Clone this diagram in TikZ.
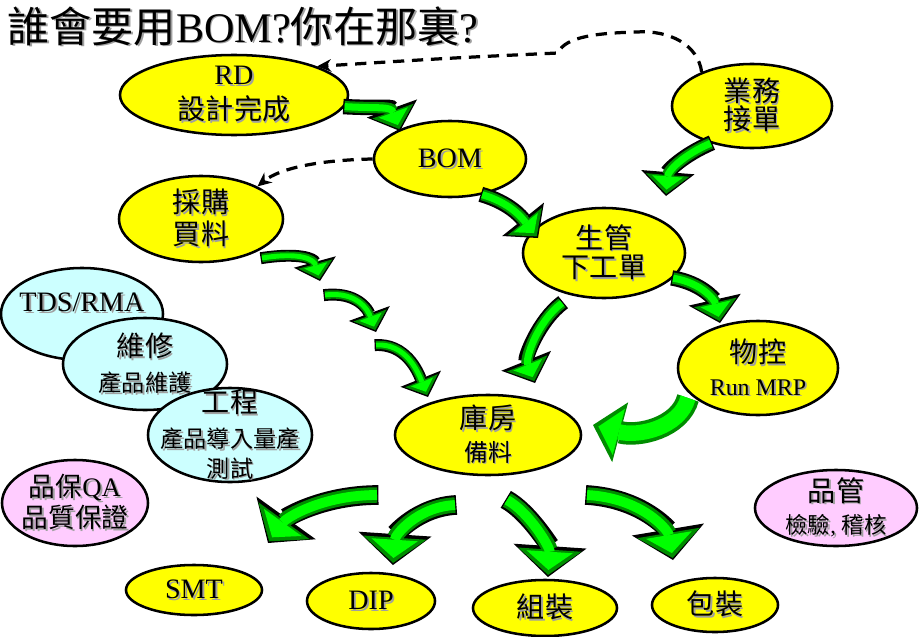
\documentclass[tikz,border=0pt]{standalone}
\usepackage{fontspec}
\setmainfont{Liberation Serif}
\newfontfamily\cjk{Noto Sans CJK TC}
\usepackage{tikz}
\usetikzlibrary{shapes.geometric,arrows.meta}

\definecolor{bubyellow}{HTML}{FFFF00}
\definecolor{bubcyan}{HTML}{CCFFFF}
\definecolor{bubpink}{HTML}{FFCCFF}
\definecolor{arrgreen}{HTML}{00FF00}
\definecolor{arrdark}{HTML}{008C00}
\definecolor{txtshadow}{HTML}{A0A0A0}

\newcommand{\zh}[1]{{\cjk #1}}
\newcommand{\ls}[1]{\leavevmode\rlap{\kern1.3pt\raisebox{-1.3pt}{\textcolor{txtshadow}{#1}}}#1}
\newcommand{\zs}[1]{\ls{\zh{#1}}}
\newcommand{\subsize}{\fontsize{16.5}{20}\selectfont}

\tikzset{
  bub/.style={ellipse, draw, line width=1.8pt, inner xsep=-40pt, inner ysep=-20pt, align=center, font=\fontsize{20}{23}\selectfont},
  ybub/.style={bub, fill=bubyellow},
  cbub/.style={bub, fill=bubcyan},
  pbub/.style={bub, fill=bubpink},
  dashln/.style={line width=2.3pt, dash pattern=on 8pt off 5.5pt, -{Stealth[length=10pt,width=9pt]}},
  flowS/.style={draw=arrdark, line width=6pt, shorten >=1.5pt, -{Triangle[length=11pt,width=25pt,line width=0pt]},
    preaction={draw=black, line width=8.5pt, shorten >=0pt, shorten <=-1pt, -{Triangle[length=14pt,width=31pt,line width=0pt]}},
    postaction={draw=arrgreen, line width=3.5pt, shorten >=4pt, -{Triangle[length=7.5pt,width=17pt,line width=0pt]}}},
  flowM/.style={draw=arrdark, line width=8pt, shorten >=1.5pt, -{Triangle[length=13.5pt,width=31pt,line width=0pt]},
    preaction={draw=black, line width=11pt, shorten >=0pt, shorten <=-1pt, -{Triangle[length=17pt,width=38pt,line width=0pt]}},
    postaction={draw=arrgreen, line width=5pt, shorten >=4.5pt, -{Triangle[length=9.5pt,width=22pt,line width=0pt]}}},
  flowL/.style={draw=arrdark, line width=11pt, shorten >=1.5pt, -{Triangle[length=18pt,width=45pt,line width=0pt]},
    preaction={draw=black, line width=14pt, shorten >=0pt, shorten <=-1pt, -{Triangle[length=22pt,width=52pt,line width=0pt]}},
    postaction={draw=arrgreen, line width=7pt, shorten >=5pt, -{Triangle[length=13pt,width=33pt,line width=0pt]}}},
  flowB/.style={draw=arrdark, line width=16pt, -{Triangle[length=20pt,width=44pt,line width=0pt]},
    postaction={draw=arrgreen, line width=11pt, shorten >=4pt, -{Triangle[length=15pt,width=34pt,line width=0pt]}}}
}

\begin{document}
\begin{tikzpicture}[x=0.025cm, y=-0.025cm]
\useasboundingbox (0,0) rectangle (920,637);

% title
\node[anchor=west, inner sep=0pt, font=\fontsize{30}{33}\selectfont] (title) at (7,27) {\ls{\zh{誰會要用}BOM?\zh{你在那裏}?}};

% bubbles
\node[ybub, minimum width=5.7cm, minimum height=2cm] (rd) at (234,95) {\ls{RD}\\[2pt]\zs{設計完成}};
\node[ybub, minimum width=4cm, minimum height=2.1cm] (sales) at (752,106) {\zs{業務}\\[-3pt]\zs{接單}};
\node[ybub, minimum width=3.8cm, minimum height=1.9cm] (bom) at (450,159) {\ls{BOM}};
\node[ybub, minimum width=4.1cm, minimum height=2.15cm] (buy) at (201,219) {\zs{採購}\\\zs{買料}};
\node[ybub, minimum width=4.05cm, minimum height=2.25cm] (plan) at (604,253) {\zs{生管}\\[-2pt]\zs{下工單}};
\node[cbub, minimum width=4.05cm, minimum height=2.3cm] (tds) at (82,314) {\raisebox{2pt}[0pt][0pt]{\ls{TDS/RMA}}};
\node[cbub, minimum width=4.1cm, minimum height=2.3cm] (repair) at (145,364) {\zs{維修}\\[2pt]{\subsize\zs{產品維護}}};
\node[cbub, minimum width=4.1cm, minimum height=2.35cm] (eng) at (230,435) {\zs{工程}\\[2pt]{\subsize\zs{產品導入量產}}\\[-2pt]{\subsize\zs{測試}}};
\node[ybub, minimum width=4cm, minimum height=2.35cm] (mc) at (758,368) {\zs{物控}\\{\fontsize{17}{20}\selectfont\ls{Run MRP}}};
\node[ybub, minimum width=4.65cm, minimum height=2cm] (store) at (488,435) {\zs{庫房}\\{\fontsize{17}{20}\selectfont\zs{備料}}};
\node[pbub, minimum width=3.65cm, minimum height=2.15cm, font=\fontsize{19}{22}\selectfont] (qa) at (75,503) {\ls{\zh{品保}QA}\\\zs{品質保證}};
\node[pbub, minimum width=4.05cm, minimum height=1.9cm] (qc) at (836,508) {\zs{品管}\\{\fontsize{16}{20}\selectfont\ls{\zh{檢驗}, \zh{稽核}}}};
\node[ybub, minimum width=3.4cm, minimum height=1.25cm] (smt) at (194,590) {\ls{SMT}};
\node[ybub, minimum width=3.2cm, minimum height=1.4cm] (dip) at (371,601) {\ls{DIP}};
\node[ybub, minimum width=3.6cm, minimum height=1.4cm] (asm) at (545,608) {\zs{組裝}};
\node[ybub, minimum width=3.15cm, minimum height=1.35cm] (pack) at (715,605) {\zs{包裝}};

% dashed feedback
\draw[dashln] (sales.146) .. controls (698,45) and (670,30) .. (637,32)
  .. controls (600,33) and (565,36) .. (558,53) .. controls (450,58) .. (rd.19);
\draw[dashln] (bom.west) .. controls (320,160) and (280,168) .. (buy.30);

% free ends of the arrows
\coordinate (a1) at (400,131);
\coordinate (a2) at (666,196);
\coordinate (a3) at (538,238);
\coordinate (a6) at (720,323);
\coordinate (c1s) at (262,258); \coordinate (c1e) at (320,281);
\coordinate (c2s) at (325,295); \coordinate (c2e) at (376,332);
\coordinate (c3s) at (376,345); \coordinate (c3e) at (428,397);
\coordinate (p1s) at (562,303); \coordinate (p1e) at (535,383);
\coordinate (m1s) at (688,398); \coordinate (m1e) at (593,425);
\coordinate (s1s) at (377,495); \coordinate (s1e) at (268,543);
\coordinate (s2s) at (455,505); \coordinate (s2e) at (393,565);
\coordinate (s3s) at (507,500); \coordinate (s3e) at (548,577);
\coordinate (s4s) at (587,495); \coordinate (s4e) at (673,560);

% green flow arrows
\draw[flowM] (rd.-6) .. controls +(35,2) and +(-9,-25) .. (a1);
\draw[flowM] (sales.222) .. controls +(-28,12) and +(2,-25) .. (a2);
\draw[flowM] (bom.-48) .. controls +(28,8) and +(-16,-20) .. (a3);
\draw[flowM] (plan.-20) .. controls +(30,5) and +(-5,-22) .. (a6);
\draw[flowM] (p1s) .. controls +(-24,18) and +(-10,-25) .. (p1e);
\draw[flowS] (c1s) .. controls +(38,-6) and +(-6,-22) .. (c1e);
\draw[flowS] (c2s) .. controls +(32,-4) and +(-8,-22) .. (c2e);
\draw[flowS] (c3s) .. controls +(30,-2) and +(-10,-25) .. (c3e);
\draw[flowB] (m1s) .. controls +(-8,30) and +(45,12) .. (m1e);
\draw[flowL] (s1s) .. controls +(-55,0) and +(18,-25) .. (s1e);
\draw[flowL] (s2s) .. controls +(-38,2) and +(2,-30) .. (s2e);
\draw[flowL] (s3s) .. controls +(22,12) and +(2,-30) .. (s3e);
\draw[flowL] (s4s) .. controls +(55,3) and +(-5,-30) .. (s4e);
\end{tikzpicture}
\end{document}
